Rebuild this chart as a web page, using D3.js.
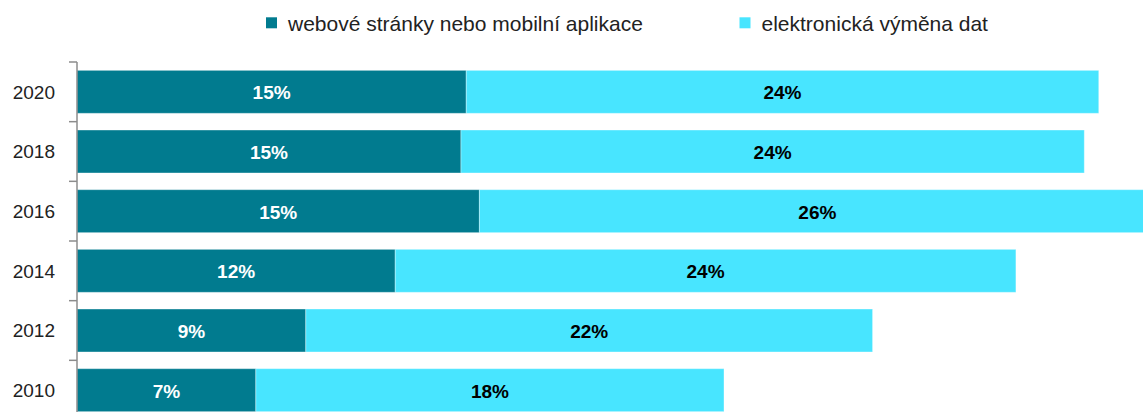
<!DOCTYPE html>
<html>
<head>
<meta charset="utf-8">
<script src="https://cdn.jsdelivr.net/npm/d3@7"></script>
<style>
html,body{margin:0;padding:0;background:#fff;overflow:hidden;}
svg{display:block;font-family:"Liberation Sans",Arial,sans-serif;}
</style>
</head>
<body>
<svg id="chart" width="1143" height="412"></svg>
<script>
const years = ["2020","2018","2016","2014","2012","2010"];
const webValues = [14.8, 14.6, 15.3, 12.1, 8.7, 6.8];
const ediValues = [24.05, 23.7, 25.7, 23.6, 21.55, 17.8];
const seriesNames = ["webové stránky nebo mobilní aplikace", "elektronická výměna dat"];
const seriesColors = ["#017B8F", "#48E5FF"];
const labelColors = ["#ffffff", "#000000"];

const svg = d3.select("#chart");
const W = 1143, H = 412;

const x = d3.scaleLinear().domain([0, 40]).range([77, 77 + 40 * 26.3]);
const y = d3.scaleBand().domain(years).range([62, 420]).paddingInner(0.28).paddingOuter(0.14);

const data = years.map((yr, i) => ({year: yr, vals: [webValues[i], ediValues[i]]}));
const stacked = [];
data.forEach(d => {
  let acc = 0;
  d.vals.forEach((v, s) => {
    stacked.push({year: d.year, s: s, x0: acc, x1: acc + v, v: v});
    acc += v;
  });
});

const g = svg.append("g");
g.selectAll("rect.bar").data(stacked).join("rect")
  .attr("class", "bar")
  .attr("x", d => x(d.x0))
  .attr("y", d => y(d.year))
  .attr("width", d => x(d.x1) - x(d.x0))
  .attr("height", y.bandwidth())
  .attr("fill", d => seriesColors[d.s])
  .attr("stroke", "rgba(255,255,255,0.35)")
  .attr("stroke-width", 1);

g.selectAll("text.lbl").data(stacked).join("text")
  .attr("class", "lbl")
  .attr("x", d => (x(d.x0) + x(d.x1)) / 2)
  .attr("y", d => y(d.year) + y.bandwidth() / 2)
  .attr("dy", "0.4em")
  .attr("text-anchor", "middle")
  .attr("font-size", 19)
  .attr("font-weight", "bold")
  .attr("fill", d => labelColors[d.s])
  .text(d => Math.round(d.v) + "%");

// category axis
const step = y.step();
const gap = step - y.bandwidth();
const bounds = years.map(yr => y(yr) - gap / 2).concat([y(years[years.length - 1]) + y.bandwidth() + gap / 2]);
const ax = svg.append("g");
ax.append("line")
  .attr("x1", x(0)).attr("x2", x(0))
  .attr("y1", bounds[0]).attr("y2", H)
  .attr("stroke", "#8c8c8c").attr("stroke-width", 1.5);
ax.selectAll("line.tick").data(bounds).join("line")
  .attr("class", "tick")
  .attr("x1", x(0) - 8).attr("x2", x(0))
  .attr("y1", d => d).attr("y2", d => d)
  .attr("stroke", "#8c8c8c").attr("stroke-width", 1.5);
ax.selectAll("text.yr").data(years).join("text")
  .attr("class", "yr")
  .attr("x", 55)
  .attr("y", d => y(d) + y.bandwidth() / 2)
  .attr("dy", "0.36em")
  .attr("text-anchor", "end")
  .attr("font-size", 19)
  .attr("fill", "#222")
  .text(d => d);

// legend
const legX = [266, 739.5];
const leg = svg.append("g");
seriesNames.forEach((name, i) => {
  leg.append("rect")
    .attr("x", legX[i]).attr("y", 17.3)
    .attr("width", 11).attr("height", 11)
    .attr("fill", seriesColors[i]);
  leg.append("text")
    .attr("x", legX[i] + 22).attr("y", 31)
    .attr("font-size", 21)
    .attr("fill", "#222")
    .text(name);
});
</script>
</body>
</html>
